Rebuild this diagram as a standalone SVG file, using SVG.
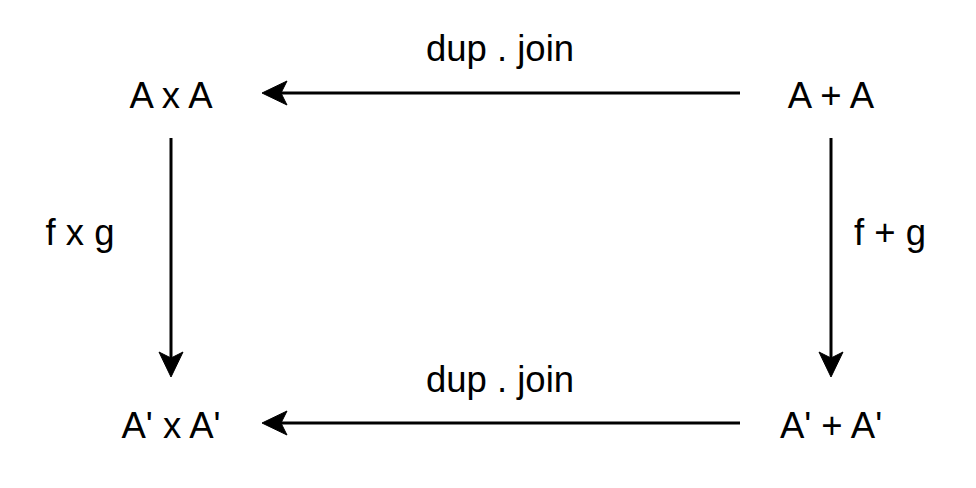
<svg xmlns="http://www.w3.org/2000/svg" width="976" height="488" viewBox="0 0 976 488">
<style>
text{font-family:"Liberation Sans",Arial,Helvetica,sans-serif;font-size:36.5px;fill:#000;text-anchor:middle}
.c{stroke:#000;stroke-width:3;fill:none}
.h{fill:#000;stroke:#000;stroke-width:1}
</style>
<rect width="976" height="488" fill="#fff"/>
<g id="connectors">
<line class="c" x1="740" y1="93" x2="280" y2="93"/>
<path class="h" d="M262,93 L287,81 L281,93 L287,105 Z"/>
<line class="c" x1="740" y1="423" x2="280" y2="423"/>
<path class="h" d="M262,423 L287,411 L281,423 L287,435 Z"/>
<line class="c" x1="171" y1="138" x2="171" y2="360"/>
<path class="h" d="M171,377 L159,352 L171,358 L183,352 Z"/>
<line class="c" x1="831" y1="138" x2="831" y2="360"/>
<path class="h" d="M831,377 L819,352 L831,358 L843,352 Z"/>
<text x="500" y="61">dup . join</text>
<text x="500" y="392">dup . join</text>
<text x="80" y="245">f x g</text>
<text x="890" y="245">f + g</text>
</g>
<g id="AxA"><text x="171" y="108">A x A</text></g>
<g id="ApA"><text x="831" y="108">A + A</text></g>
<g id="A2xA2"><text x="171" y="438">A' x A'</text></g>
<g id="A2pA2"><text x="831" y="438">A' + A'</text></g>
</svg>
